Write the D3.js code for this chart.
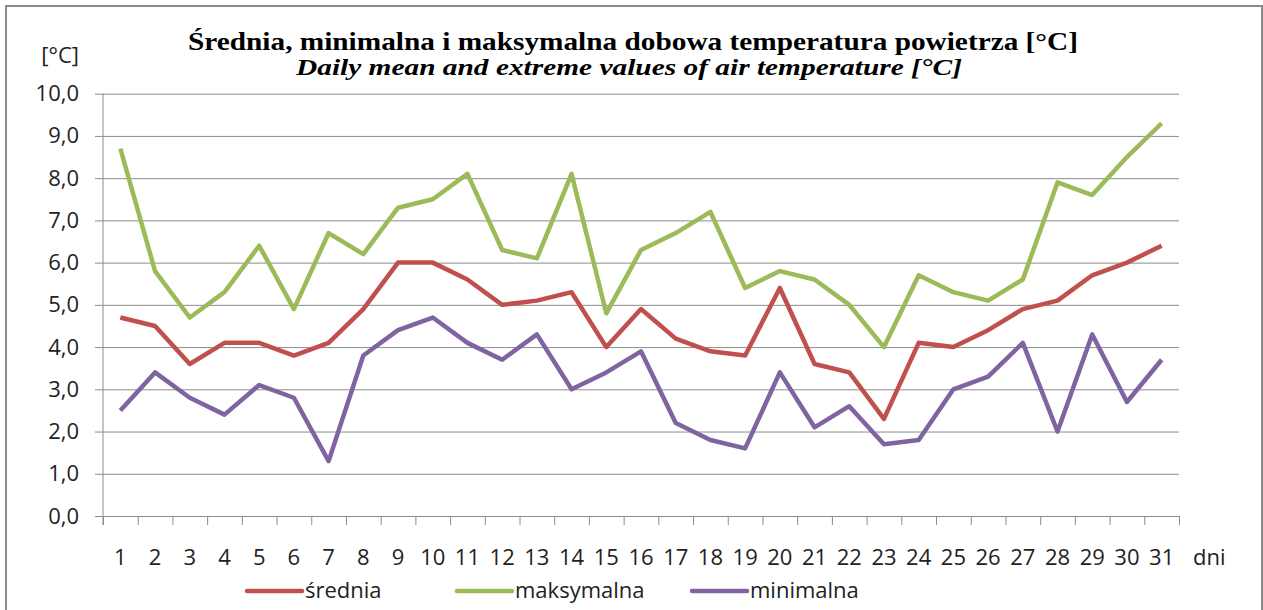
<!DOCTYPE html>
<html>
<head>
<meta charset="utf-8">
<script src="https://cdn.jsdelivr.net/npm/d3@7"></script>
<style>
  body { margin: 0; background: #fff; }
  .tick text { font-family: "Open Sans", sans-serif; fill: #222; }
</style>
</head>
<body>
<div class="chart"></div>
<script>
var svgWidth = 1263;
var svgHeight = 610;

// data
var days = d3.range(1, 32);
var srednia = [4.7, 4.5, 3.6, 4.1, 4.1, 3.8, 4.1, 4.9, 6.0, 6.0, 5.6, 5.0, 5.1, 5.3, 4.0, 4.9,
  4.2, 3.9, 3.8, 5.4, 3.6, 3.4, 2.3, 4.1, 4.0, 4.4, 4.9, 5.1, 5.7, 6.0, 6.4];
var maksymalna = [8.7, 5.8, 4.7, 5.3, 6.4, 4.9, 6.7, 6.2, 7.3, 7.5, 8.1, 6.3, 6.1, 8.1, 4.8, 6.3,
  6.7, 7.2, 5.4, 5.8, 5.6, 5.0, 4.0, 5.7, 5.3, 5.1, 5.6, 7.9, 7.6, 8.5, 9.3];
var minimalna = [2.5, 3.4, 2.8, 2.4, 3.1, 2.8, 1.3, 3.8, 4.4, 4.7, 4.1, 3.7, 4.3, 3.0, 3.4, 3.9,
  2.2, 1.8, 1.6, 3.4, 2.1, 2.6, 1.7, 1.8, 3.0, 3.3, 4.1, 2.0, 4.3, 2.7, 3.7];
var yTicks = [0, 1, 2, 3, 4, 5, 6, 7, 8, 9, 10];
var seriesNames = ["średnia", "maksymalna", "minimalna"];
var seriesColors = ["#C0504D", "#9BBB59", "#8064A2"];

var series = [srednia, maksymalna, minimalna];

var plot = { left: 103, right: 1179, top: 93.7, bottom: 516 };

var svg = d3.select(".chart")
  .append("svg")
  .attr("width", svgWidth)
  .attr("height", svgHeight);

// outer frame
svg.append("rect")
  .attr("x", 6).attr("y", 6)
  .attr("width", 1256).attr("height", 620)
  .attr("fill", "none")
  .attr("stroke", "#8a8a8a")
  .attr("stroke-width", 2);

var x = d3.scaleBand().domain(days).range([plot.left, plot.right]);
var xEdge = d3.scaleLinear().domain([0, 31]).range([plot.left, plot.right]);
var y = d3.scaleLinear().domain([0, 10]).range([plot.bottom, plot.top]);

var plLocale = d3.formatLocale({ decimal: ",", thousands: " ", grouping: [3], currency: ["", ""] });
var fmt = plLocale.format(".1f");

// gridlines
svg.append("g")
  .attr("transform", `translate(${plot.left},0)`)
  .call(d3.axisLeft(y).tickValues(yTicks).tickSize(-(plot.right - plot.left)).tickSizeOuter(0).tickFormat(""))
  .call(g => g.select(".domain").remove())
  .call(g => g.selectAll("line").attr("stroke", "#8c8c8c"));

// y axis with labels
var yAxis = svg.append("g")
  .attr("transform", `translate(${plot.left},0)`)
  .call(d3.axisLeft(y).tickValues(yTicks).tickSize(8).tickSizeOuter(0).tickFormat(fmt).tickPadding(16));
yAxis.select(".domain").attr("stroke", "#8c8c8c").attr("d", `M0,${plot.top}V${plot.bottom + 9}`);
yAxis.selectAll("line").attr("stroke", "#8c8c8c");
yAxis.selectAll("text").style("font-size", "22px");

// x axis: ticks between categories
var xAxis = svg.append("g")
  .attr("transform", `translate(0,${plot.bottom})`)
  .call(d3.axisBottom(xEdge).tickValues(d3.range(0, 32)).tickSize(9).tickSizeOuter(0).tickFormat(""));
xAxis.select(".domain").attr("stroke", "#8c8c8c");
xAxis.selectAll("line").attr("stroke", "#8c8c8c");

// x labels
var xLabels = svg.append("g")
  .attr("transform", `translate(0,${plot.bottom})`)
  .call(d3.axisBottom(x).tickSize(0).tickPadding(0));
xLabels.select(".domain").remove();
xLabels.selectAll("text")
  .attr("y", 49).attr("dy", 0)
  .style("font-size", "22px");

svg.append("text")
  .attr("x", 1193).attr("y", 565)
  .style("font-family", "Open Sans, sans-serif")
  .style("font-size", "22px")
  .attr("fill", "#222")
  .text("dni");

svg.append("text")
  .attr("x", 79).attr("y", 63)
  .attr("text-anchor", "end")
  .style("font-family", "Open Sans, sans-serif")
  .style("font-size", "22px")
  .attr("fill", "#222")
  .text("[°C]");

// titles
svg.append("text")
  .attr("x", 188).attr("y", 50)
  .attr("textLength", 890).attr("lengthAdjust", "spacingAndGlyphs")
  .style("font-family", "Liberation Serif, serif")
  .style("font-weight", "bold")
  .style("font-size", "25px")
  .text("Średnia, minimalna i maksymalna dobowa temperatura powietrza [°C]");

svg.append("text")
  .attr("x", 296).attr("y", 75)
  .attr("textLength", 666).attr("lengthAdjust", "spacingAndGlyphs")
  .style("font-family", "Liberation Serif, serif")
  .style("font-weight", "bold")
  .style("font-style", "italic")
  .style("font-size", "24px")
  .text("Daily mean and extreme values of air temperature [°C]");

// lines
var line = d3.line()
  .x((d, i) => x(days[i]) + x.bandwidth() / 2)
  .y(d => y(d));

svg.append("g").selectAll("path")
  .data(series)
  .enter()
  .append("path")
  .attr("d", d => line(d))
  .attr("fill", "none")
  .attr("stroke", (d, i) => seriesColors[i])
  .attr("stroke-width", 4.5)
  .attr("stroke-linejoin", "round");

// legend
var legendX = [247, 457, 692];
var legend = svg.append("g").selectAll("g")
  .data(seriesNames)
  .enter()
  .append("g")
  .attr("transform", (d, i) => `translate(${legendX[i]},591)`);

legend.append("line")
  .attr("x1", 0).attr("x2", 55)
  .attr("stroke", (d, i) => seriesColors[i])
  .attr("stroke-width", 4.5)
  .attr("stroke-linecap", "round");

legend.append("text")
  .attr("x", 58).attr("y", 7)
  .style("font-family", "Open Sans, sans-serif")
  .style("font-size", "22px")
  .attr("fill", "#222")
  .text(d => d);
</script>
</body>
</html>
